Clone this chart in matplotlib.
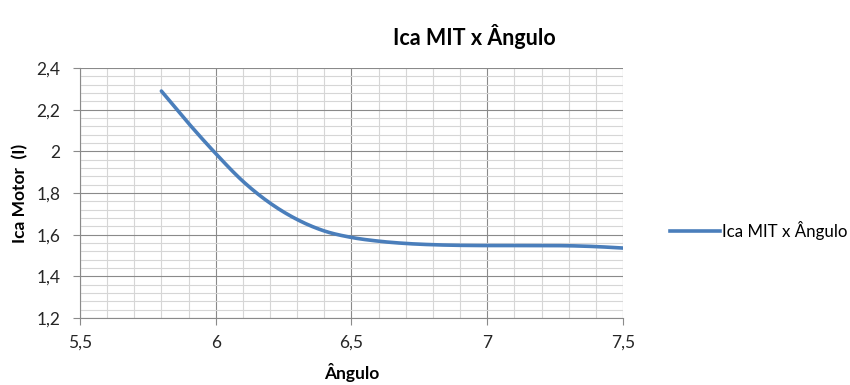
import matplotlib
matplotlib.use("Agg")
import matplotlib.pyplot as plt
from matplotlib.ticker import MultipleLocator, FuncFormatter
from matplotlib.lines import Line2D
import numpy as np

plt.rcParams['font.family'] = ['Lato', 'DejaVu Sans']

angulo = [5.8, 5.9, 6.0, 6.1, 6.2, 6.3, 6.4, 6.5, 6.6, 6.7, 6.8, 6.9, 7.0, 7.1, 7.2, 7.3, 7.4, 7.5]
ica = [2.29, 2.135, 1.99, 1.857, 1.752, 1.673, 1.618, 1.587, 1.569, 1.558, 1.552, 1.549, 1.548, 1.548, 1.548, 1.547, 1.543, 1.536]
series_name = "Ica MIT x Ângulo"
title = "Ica MIT x Ângulo"
xlabel = "Ângulo"
ylabel = "Ica Motor  (I)"

fig = plt.figure(figsize=(8.5, 3.85), dpi=100)
ax = fig.add_axes([0.094, 0.174, 0.639, 0.649])

# smooth curve through the read points (Catmull-Rom, like Excel's smoothed line)
xs = np.array(angulo); ys = np.array(ica)
xx = []; yy = []
for i in range(len(xs) - 1):
    p0 = (xs[i-1], ys[i-1]) if i > 0 else (2*xs[0]-xs[1], 2*ys[0]-ys[1])
    p1 = (xs[i], ys[i]); p2 = (xs[i+1], ys[i+1])
    p3 = (xs[i+2], ys[i+2]) if i+2 < len(xs) else (2*xs[-1]-xs[-2], 2*ys[-1]-ys[-2])
    for t in np.linspace(0, 1, 16, endpoint=False):
        t2, t3 = t*t, t*t*t
        for arr, k in ((xx, 0), (yy, 1)):
            arr.append(0.5*((2*p1[k]) + (-p0[k]+p2[k])*t + (2*p0[k]-5*p1[k]+4*p2[k]-p3[k])*t2 + (-p0[k]+3*p1[k]-3*p2[k]+p3[k])*t3))
xx.append(xs[-1]); yy.append(ys[-1])

line_color = '#4A7EBB'
ax.plot(xx, yy, color=line_color, lw=2.6, solid_capstyle='round', zorder=3)

ax.set_xlim(5.5, 7.5)
ax.set_ylim(1.2, 2.4)
ax.xaxis.set_major_locator(MultipleLocator(0.5))
ax.xaxis.set_minor_locator(MultipleLocator(0.1))
ax.yaxis.set_major_locator(MultipleLocator(0.2))
ax.yaxis.set_minor_locator(MultipleLocator(0.04))
fmt = FuncFormatter(lambda v, p: ('%g' % round(v, 2)).replace('.', ','))
ax.xaxis.set_major_formatter(fmt)
ax.yaxis.set_major_formatter(fmt)

ax.grid(which='major', color='#8A8A8A', lw=0.8)
ax.grid(which='minor', color='#D6D6D6', lw=0.8)
ax.set_axisbelow(True)
for s in ['top', 'right']:
    ax.spines[s].set_visible(False)
for s in ['left', 'bottom']:
    ax.spines[s].set_color('#8A8A8A')
    ax.spines[s].set_linewidth(0.8)
ax.tick_params(which='major', length=5, color='#8A8A8A', labelsize=12.5, labelcolor='#262626')
ax.tick_params(axis='x', which='major', pad=7)
ax.tick_params(axis='y', which='major', pad=9)
ax.tick_params(which='minor', length=0)

ax.set_xlabel(xlabel, fontsize=12.5, fontweight='bold', labelpad=9)
ax.set_ylabel(ylabel, fontsize=12.5, fontweight='bold', labelpad=6)
fig.text(0.558, 0.905, title, ha='center', va='center', fontsize=15.5, fontweight='bold')

h = Line2D([], [], color=line_color, lw=2.6)
fig.legend([h], [series_name], loc='center left', bbox_to_anchor=(0.77, 0.402),
           frameon=False, fontsize=12.2, handlelength=2.95, handletextpad=0.15)

fig.savefig('out.png', dpi=100)
